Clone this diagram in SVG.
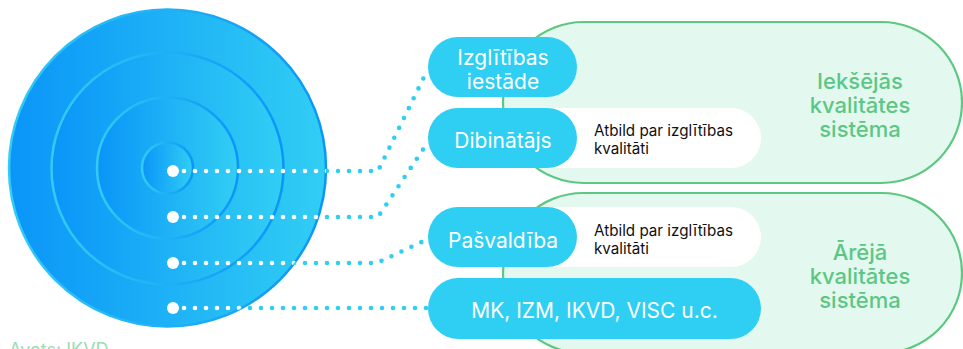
<svg xmlns="http://www.w3.org/2000/svg" width="963" height="349" viewBox="0 0 963 349">
<defs>
<linearGradient id="gFill" x1="0" y1="0" x2="1" y2="0">
<stop offset="0" stop-color="#0a95f8"/>
<stop offset="1" stop-color="#31cef4"/>
</linearGradient>
<linearGradient id="gRing" x1="0" y1="0" x2="1" y2="0">
<stop offset="0" stop-color="#33cbf5"/>
<stop offset="1" stop-color="#0a95f8"/>
</linearGradient>
<clipPath id="clipC"><circle cx="167.5" cy="168" r="158.5"/></clipPath>
<style>
.disc{fill:url(#gFill);stroke:url(#gRing);stroke-width:2.5}
.green{fill:#e3f9ef;stroke:#5cc882;stroke-width:2.2}
.cyan{fill:#2ecff3}
.white{fill:#ffffff}
.pt{font-family:Inter,"Liberation Sans",sans-serif;font-size:21px;fill:#ffffff;text-anchor:middle}
.gt{font-family:Inter,"Liberation Sans",sans-serif;font-size:22px;font-weight:500;fill:#5cc785;text-anchor:middle}
.bt{font-family:Inter,"Liberation Sans",sans-serif;font-size:15.2px;fill:#111111}
.dot{fill:none;stroke-width:4.6;stroke-linecap:round;stroke-dasharray:0 11}
</style>
</defs>
<rect width="963" height="349" fill="#ffffff"/>

<g id="target">
<circle class="disc" cx="167.5" cy="168" r="158.5"/>
<circle class="disc" cx="167.5" cy="168.5" r="116"/>
<circle class="disc" cx="167.5" cy="168" r="70.5"/>
<circle class="disc" cx="167.5" cy="168" r="25.5"/>
</g>

<g id="internal-system">
<rect class="green" x="503" y="22" width="459" height="161" rx="80.5"/>
<text class="gt" x="860" y="89">Iekšējās</text>
<text class="gt" x="860" y="113">kvalitātes</text>
<text class="gt" x="860" y="137">sistēma</text>
</g>
<g id="external-system">
<rect class="green" x="503" y="193" width="459" height="160" rx="80"/>
<text class="gt" x="860" y="260">Ārējā</text>
<text class="gt" x="860" y="284">kvalitātes</text>
<text class="gt" x="860" y="308">sistēma</text>
</g>

<g id="resp-1">
<rect class="white" x="500" y="108" width="261" height="60" rx="30"/>
<text class="bt" x="594" y="136">Atbild par izglītības</text>
<text class="bt" x="594" y="154">kvalitāti</text>
</g>
<g id="resp-2">
<rect class="white" x="500" y="207" width="261" height="60" rx="30"/>
<text class="bt" x="594" y="236">Atbild par izglītības</text>
<text class="bt" x="594" y="254">kvalitāti</text>
</g>

<g id="izglitibas-iestade">
<rect class="cyan" x="428" y="37" width="149" height="60" rx="30"/>
<text class="pt" x="503" y="65">Izglītības</text>
<text class="pt" x="503" y="89">iestāde</text>
</g>
<g id="dibinatajs">
<rect class="cyan" x="428" y="108" width="149" height="60" rx="30"/>
<text class="pt" x="503" y="148">Dibinātājs</text>
</g>
<g id="pasvaldiba">
<rect class="cyan" x="428" y="207" width="149" height="60" rx="30"/>
<text class="pt" x="503" y="248">Pašvaldība</text>
</g>
<g id="mk">
<rect class="cyan" x="428" y="278" width="333" height="61" rx="30.5"/>
<text class="pt" x="594.5" y="318">MK, IZM, IKVD, VISC u.c.</text>
</g>

<g id="connectors">
<g>
<path class="dot" stroke="#2ecff2" d="M184,171 H378 L428,69"/>
<path class="dot" stroke="#2ecff2" d="M184,217 H378 L428,142"/>
<path class="dot" stroke="#2ecff2" d="M184,263 H377 L428,239"/>
<path class="dot" stroke="#2ecff2" d="M184,308 H428"/>
</g>
<g clip-path="url(#clipC)">
<path class="dot" stroke="#ffffff" d="M184,171 H378 L428,69"/>
<path class="dot" stroke="#ffffff" d="M184,217 H378 L428,142"/>
<path class="dot" stroke="#ffffff" d="M184,263 H377 L428,239"/>
<path class="dot" stroke="#ffffff" d="M184,308 H428"/>
</g>
<g fill="#ffffff">
<circle cx="173" cy="171" r="6"/>
<circle cx="173" cy="217" r="6"/>
<circle cx="173" cy="263" r="6"/>
<circle cx="173" cy="308" r="6"/>
</g>
</g>

<text x="9" y="356" font-family="Inter,'Liberation Sans',sans-serif" font-size="18" fill="#9adcb2">Avots: IKVD</text>
</svg>
